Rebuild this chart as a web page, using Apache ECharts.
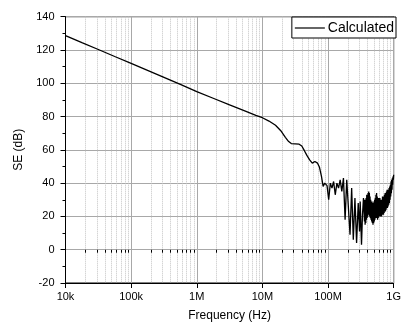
<!DOCTYPE html>
<html><head><meta charset="utf-8">
<script src="https://cdn.jsdelivr.net/npm/echarts@6/dist/echarts.min.js"></script>
<style>html,body{margin:0;padding:0;background:#fff}#c{width:404px;height:327px}</style>
</head><body><div id="c"></div>
<script>
// X: log10 of frequency (Hz), Y: SE (dB)
const seCurve = [
[4.00,128.6],[4.25,124.4],[4.50,120.3],[4.75,116.1],[5.00,112.0],[5.25,107.8],[5.50,103.6],[5.75,99.3],
[6.00,95.0],[6.25,91.0],[6.50,87.0],[6.75,83.1],[6.90,80.7],[7.00,79.3],[7.10,77.3],[7.20,74.8],
[7.28,71.5],[7.35,67.5],[7.40,65.0],[7.44,63.8],[7.50,63.6],[7.56,63.4],[7.60,62.3],[7.64,59.5],
[7.68,56.5],[7.72,54.0],[7.76,52.0],[7.80,53.0],[7.84,52.0],[7.87,49.5],[7.90,44.0],[7.925,38.0],
[7.95,40.0],[7.985,38.5],
[8.01,30],[8.035,40],[8.06,37],[8.085,41],[8.11,33],[8.135,40],[8.16,37],[8.185,42],[8.21,35],
[8.235,43],[8.26,18],[8.285,42],[8.31,41],[8.335,9],[8.36,37],[8.385,6],[8.41,31],[8.435,4],
[8.46,28],[8.48,11],[8.49,29],[8.51,3],[8.525,21],[8.54,31],
[8.550,31],[8.555,17],[8.560,30],[8.565,15],[8.570,29],[8.575,16],[8.580,31],[8.585,18],[8.590,33],
[8.595,19],[8.600,32],[8.605,20],[8.610,34],[8.615,21],[8.620,35],[8.625,22],[8.630,34],[8.635,20],
[8.640,32],[8.645,19],[8.650,30],[8.655,18],[8.660,29],[8.665,17],[8.670,29],[8.675,16],[8.680,28],
[8.685,15],[8.690,28],[8.695,16],[8.700,29],[8.705,17],[8.710,30],[8.715,18],[8.720,31],[8.725,19],
[8.730,33],[8.735,20],[8.740,34],[8.745,19],[8.750,32],[8.755,18],[8.760,31],[8.765,19],[8.770,30],
[8.775,20],[8.780,31],[8.785,21],[8.790,31],[8.795,20],[8.800,30],[8.805,21],[8.810,29],[8.815,20],
[8.820,30],[8.825,21],[8.830,32],[8.835,22],[8.840,32],[8.845,21],[8.850,31],[8.855,22],[8.860,33],
[8.865,23],[8.870,34],[8.875,23],[8.880,33],[8.885,24],[8.890,35],[8.895,25],[8.900,36],[8.905,25],
[8.910,35],[8.915,26],[8.920,36],[8.925,27],[8.930,37],[8.935,28],[8.940,38],[8.945,30],[8.950,39],
[8.955,32],[8.960,41],[8.965,34],[8.970,42],[8.975,36],[8.980,43],[8.985,39],[8.990,44],[8.995,42],
[9.000,45]
];
const xTickLabels = {1e4:'10k',1e5:'100k',1e6:'1M',1e7:'10M',1e8:'100M',1e9:'1G'};
const yTicks = [-20,0,20,40,60,80,100,120,140];
const seriesName = 'Calculated';
const xTitle = 'Frequency (Hz)';
const yTitle = 'SE (dB)';

const minorVals = [];
for (let e = 4; e < 9; e++) for (let k = 2; k <= 9; k++) minorVals.push(k * Math.pow(10, e));

const FONT = "'Liberation Sans', Arial, sans-serif";
const chart = echarts.init(document.getElementById('c'), null, {renderer:'canvas'});
chart.setOption({
  animation:false,
  backgroundColor:'#fff',
  textStyle:{fontFamily:FONT},
  grid:{left:65.5, right:6, top:16.7, bottom:43.7, show:true, borderColor:'#000', borderWidth:1, backgroundColor:'transparent'},
  legend:{
    data:[{name:seriesName, icon:'rect'}],
    right:8, top:17, orient:'vertical',
    itemWidth:30, itemHeight:1.2, itemGap:0,
    padding:[4,2,3,3],
    borderColor:'#000', borderWidth:1, borderRadius:0, backgroundColor:'#fff',
    textStyle:{fontFamily:FONT, fontSize:14, color:'#000', padding:[0,0,0,-2]}
  },
  xAxis:[{
    type:'log', logBase:10, min:1e4, max:1e9,
    name:xTitle, nameLocation:'middle', nameGap:27,
    nameTextStyle:{fontFamily:FONT, fontSize:12, color:'#000'},
    axisLine:{show:true, onZero:false, lineStyle:{color:'#000', width:1}},
    axisTick:{show:true, inside:false, length:5, lineStyle:{color:'#000'}},
    axisLabel:{fontFamily:FONT, fontSize:11, color:'#000', margin:8,
      formatter:v=>xTickLabels[Math.round(v)] || ''},
    splitLine:{show:true, lineStyle:{color:'#a8a8a8', width:1}},
    minorTick:{show:false}
  },{
    type:'log', logBase:10, min:1e4, max:1e9, position:'bottom',
    axisLine:{show:false},
    axisLabel:{show:false},
    axisTick:{show:true, customValues:minorVals, length:3, lineStyle:{color:'#000'}},
    splitLine:{show:true, lineStyle:{color:'#c4c4c4', type:'dotted', width:1}}
  }],
  yAxis:{
    type:'value', min:-20, max:140, interval:20,
    name:yTitle, nameLocation:'middle', nameGap:41, nameRotate:90,
    nameTextStyle:{fontFamily:FONT, fontSize:12, color:'#000'},
    axisLine:{show:true, onZero:false, lineStyle:{color:'#000'}},
    axisTick:{show:true, length:5, lineStyle:{color:'#000'}},
    minorTick:{show:true, splitNumber:2, length:3, lineStyle:{color:'#000'}},
    axisLabel:{fontFamily:FONT, fontSize:11, color:'#000', margin:11,
      formatter:v=>yTicks.includes(v) ? String(v) : ''},
    splitLine:{show:true, lineStyle:{color:'#a8a8a8', width:1}}
  },
  series:[{
    name:seriesName, type:'line', xAxisIndex:0,
    data:seCurve.map(p=>[Math.pow(10,p[0]), p[1]]),
    showSymbol:false, symbol:'none',
    lineStyle:{color:'#000', width:1.3},
    itemStyle:{color:'#000'},
    z:5
  }]
});
</script></body></html>
